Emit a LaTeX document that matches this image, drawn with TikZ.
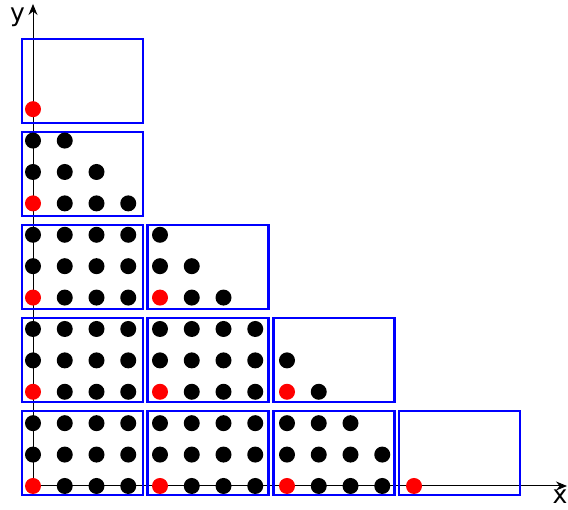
\documentclass[tikz,border=0pt]{standalone}
\usepackage{fontspec}
\setmainfont{DejaVu Sans}
\usetikzlibrary{arrows.meta}

\tikzset{
    box/.style={draw=blue, line width=2.5pt},
    axis/.style={-{Stealth[length=11pt, width=9pt]}, line width=1pt},
    lattice dot/.style={circle, inner sep=0pt, minimum size=16pt},
    axis label/.style={inner sep=0pt, anchor=base},
}

\begin{document}
\begin{tikzpicture}[x=1pt, y=1pt, every node/.style={font=\fontsize{25}{30}\selectfont}]

    \useasboundingbox (0,0) rectangle (568,510);

    % Axes
    \coordinate (origin) at (33,24);
    \coordinate (xend) at (567,24);
    \coordinate (yend) at (33,506);
    \draw[axis] (origin) -- (xend);
    \draw[axis] (origin) -- (yend);
    \node[axis label] (xlabel) at (560,6) {x};
    \node[axis label] (ylabel) at (17.5,488.7) {y};

    % Boxes (column/row)
    \foreach \i/\j in {0/0, 1/0, 2/0, 3/0, 0/1, 1/1, 2/1, 0/2, 1/2, 0/3, 0/4}
        \draw[box] (22+125.7*\i, 15+93*\j) rectangle +(121,84);

    % Lattice points with x+y <= 12, red at the corner of each box
    \foreach \y in {0,...,12} {
        \pgfmathtruncatemacro\xmax{12-\y}
        \foreach \x in {0,...,\xmax} {
            \pgfmathtruncatemacro\isred{and(mod(\x,4)==0, mod(\y,3)==0)}
            \ifnum\isred=1 \def\dotcol{red}\else\def\dotcol{black}\fi
            \node[lattice dot, fill=\dotcol] (p-\x-\y) at (33+31.75*\x, 24+31.4*\y) {};
        }
    }

\end{tikzpicture}
\end{document}
